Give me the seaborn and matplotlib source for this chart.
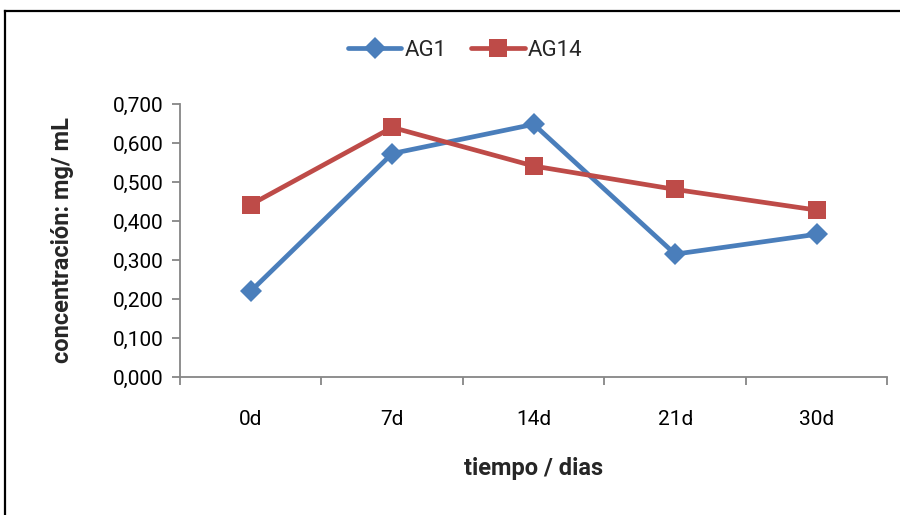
import matplotlib
matplotlib.use("Agg")
import matplotlib.pyplot as plt
from matplotlib.lines import Line2D
from matplotlib.ticker import FuncFormatter
import seaborn as sns
import pandas as pd

# Sampling times and measured concentrations (mg/mL)
tiempos = ["0d", "7d", "14d", "21d", "30d"]
ag1 = [0.220, 0.573, 0.648, 0.315, 0.366]
ag14 = [0.442, 0.640, 0.541, 0.481, 0.428]
series = ["AG1", "AG14"]
colores = {"AG1": "#4A7EBB", "AG14": "#BE4B48"}
marcadores = {"AG1": "D", "AG14": "s"}
tam_marcador = {"AG1": 11, "AG14": 12.5}

df = pd.DataFrame({
    "tiempo": tiempos * 2,
    "concentracion": ag1 + ag14,
    "serie": [series[0]] * len(tiempos) + [series[1]] * len(tiempos),
})

sns.set_theme(style="white")
plt.rcParams["font.family"] = ["Roboto", "DejaVu Sans"]

fig = plt.figure(figsize=(9, 5.15), dpi=100)
ax = fig.add_axes([0.200, 0.268, 0.786, 0.530])

sns.lineplot(
    data=df, x="tiempo", y="concentracion", hue="serie", style="serie",
    palette=colores, markers=marcadores, dashes=False, linewidth=3.4,
    markersize=11, markeredgewidth=0, sort=False, ax=ax, legend=False,
)
for line, s in zip(ax.lines, series):
    line.set_markersize(tam_marcador[s])

ax.set_xlim(-0.5, len(tiempos) - 0.5)
ax.set_ylim(0, 0.7)
ax.set_yticks([i / 10 for i in range(8)])
ax.yaxis.set_major_formatter(FuncFormatter(lambda v, p: f"{v:.3f}".replace(".", ",")))
ax.set_xticks(range(len(tiempos)))
ax.set_xticklabels(tiempos)
ax.set_xticks([i - 0.5 for i in range(len(tiempos) + 1)], minor=True)

axis_gray = "#868686"
for side in ["top", "right"]:
    ax.spines[side].set_visible(False)
for side in ["left", "bottom"]:
    ax.spines[side].set_color(axis_gray)
    ax.spines[side].set_linewidth(1.3)

ax.tick_params(axis="y", which="major", direction="out", length=6, width=1.3,
               color=axis_gray, left=True, labelsize=15, pad=6, labelcolor="black")
ax.tick_params(axis="x", which="major", length=0, labelsize=15, pad=24, labelcolor="black")
ax.tick_params(axis="x", which="minor", direction="out", length=6, width=1.3,
               color=axis_gray, bottom=True)

ax.set_xlabel("tiempo / dias", fontsize=17, fontweight="bold", labelpad=20)
ax.set_ylabel("concentración: mg/ mL", fontsize=17, fontweight="bold", labelpad=28)

handles = [
    Line2D([], [], color=colores[s], marker=marcadores[s], linewidth=3.4,
           markersize=tam_marcador[s], markeredgewidth=0)
    for s in series
]
fig.legend(handles, series, loc="center", bbox_to_anchor=(0.517, 0.902), ncol=2,
           frameon=False, fontsize=16, handlelength=2.4, handletextpad=0.15,
           columnspacing=1.1)

# Chart-area frame: only the top and left edges fall inside the image
frame_top = 1 - 11 / 515
frame_left = 5 / 900
fig.add_artist(Line2D([frame_left, 1.0], [frame_top, frame_top], transform=fig.transFigure,
                      color="black", linewidth=1.6, solid_capstyle="projecting"))
fig.add_artist(Line2D([frame_left, frame_left], [0.0, frame_top], transform=fig.transFigure,
                      color="black", linewidth=1.6, solid_capstyle="projecting"))

fig.savefig("out.png", dpi=100)
